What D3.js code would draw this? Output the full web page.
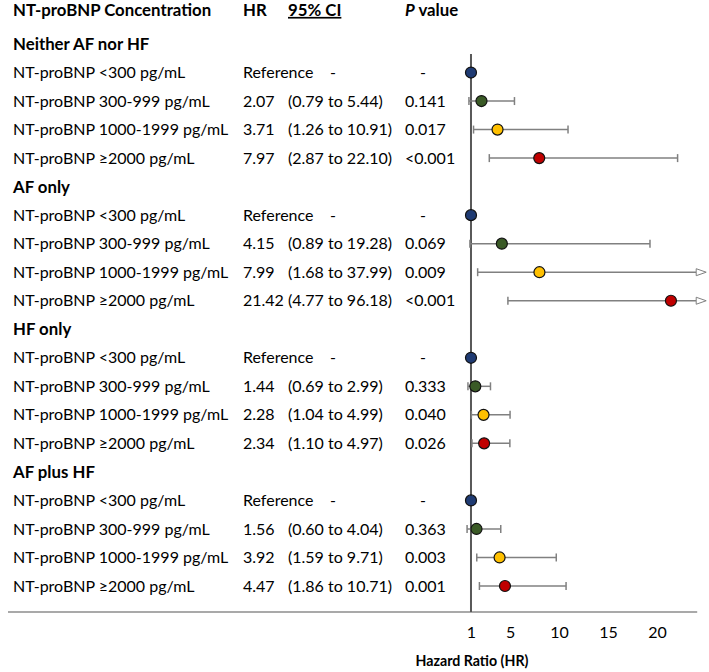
<!DOCTYPE html>
<html><head><meta charset="utf-8">
<script src="https://cdn.jsdelivr.net/npm/d3@7/dist/d3.min.js"></script>
<style>
body{margin:0;background:#fff;}
svg{display:block;}
text{font-family:Lato,"Open Sans",sans-serif;fill:#000;}
</style></head>
<body><svg id="c" width="709" height="672"></svg>
<script>
// ---- data ----
const groups = ["Neither AF nor HF", "AF only", "HF only", "AF plus HF"];
const categories = ["NT-proBNP <300 pg/mL", "NT-proBNP 300-999 pg/mL", "NT-proBNP 1000-1999 pg/mL", "NT-proBNP \u22652000 pg/mL"];
const hrValues = [
  [1, 2.07, 3.71, 7.97],
  [1, 4.15, 7.99, 21.42],
  [1, 1.44, 2.28, 2.34],
  [1, 1.56, 3.92, 4.47]
];
const ciLower = [
  [null, 0.79, 1.26, 2.87],
  [null, 0.89, 1.68, 4.77],
  [null, 0.69, 1.04, 1.10],
  [null, 0.60, 1.59, 1.86]
];
const ciUpper = [
  [null, 5.44, 10.91, 22.10],
  [null, 19.28, 37.99, 96.18],
  [null, 2.99, 4.99, 4.97],
  [null, 4.04, 9.71, 10.71]
];
const hrLabels = [
  ["Reference", "2.07", "3.71", "7.97"],
  ["Reference", "4.15", "7.99", "21.42"],
  ["Reference", "1.44", "2.28", "2.34"],
  ["Reference", "1.56", "3.92", "4.47"]
];
const ciLabels = [
  ["-", "(0.79 to 5.44)", "(1.26 to 10.91)", "(2.87 to 22.10)"],
  ["-", "(0.89 to 19.28)", "(1.68 to 37.99)", "(4.77 to 96.18)"],
  ["-", "(0.69 to 2.99)", "(1.04 to 4.99)", "(1.10 to 4.97)"],
  ["-", "(0.60 to 4.04)", "(1.59 to 9.71)", "(1.86 to 10.71)"]
];
const pLabels = [
  ["-", "0.141", "0.017", "<0.001"],
  ["-", "0.069", "0.009", "<0.001"],
  ["-", "0.333", "0.040", "0.026"],
  ["-", "0.363", "0.003", "0.001"]
];
const xTicks = [1, 5, 10, 15, 20];
const xMax = 24;

// ---- styles ----
const markerColors = ["#1f3b73", "#3a5a26", "#ffc000", "#c00000"];
const FS = 16;
const FSB = 16.8;

const svg = d3.select("#c");
const x = d3.scaleLinear().domain([0, xMax]).range([461.2, 696.2]);
const y = d3.scaleLinear().domain([1, 20]).range([44, 586]);

// build rows
const rows = [];
let slot = 1;
groups.forEach((g, gi) => {
  rows.push({type: "group", label: g, slot: slot++});
  categories.forEach((c, ci) => {
    rows.push({type: "item", label: c, slot: slot++, gi, ci,
      hr: hrValues[gi][ci], lo: ciLower[gi][ci], hi: ciUpper[gi][ci],
      hrL: hrLabels[gi][ci], ciL: ciLabels[gi][ci], pL: pLabels[gi][ci]});
  });
});

// header
const hdr = svg.append("g").attr("font-weight", "bold").attr("font-size", FSB);
hdr.append("text").attr("x", 13).attr("y", 10).attr("dy", "0.35em").text("NT-proBNP Concentration");
hdr.append("text").attr("x", 243).attr("y", 10).attr("dy", "0.35em").text("HR");
hdr.append("text").attr("x", 288).attr("y", 10).attr("dy", "0.35em").style("text-decoration", "underline").text("95% CI");
const pv = hdr.append("text").attr("x", 405).attr("y", 10).attr("dy", "0.35em");
pv.append("tspan").attr("font-style", "italic").text("P");
pv.append("tspan").text(" value");

// left table
const tbl = svg.append("g").attr("font-size", FS);
rows.forEach(r => {
  const yy = y(r.slot);
  if (r.type === "group") {
    tbl.append("text").attr("x", 13).attr("y", yy).attr("dy", "0.35em").attr("font-weight", "bold").attr("font-size", FSB).text(r.label);
  } else {
    tbl.append("text").attr("x", 13).attr("y", yy).attr("dy", "0.35em").text(r.label);
    tbl.append("text").attr("x", 243).attr("y", yy).attr("dy", "0.35em").text(r.hrL);
    tbl.append("text").attr("x", r.ci === 0 ? 330 : 288).attr("y", yy).attr("dy", "0.35em").text(r.ciL);
    tbl.append("text").attr("x", r.ci === 0 ? 420 : 405).attr("y", yy).attr("dy", "0.35em").text(r.pL);
  }
});

// axis baseline and reference line
svg.append("line").attr("x1", 8).attr("x2", x(xMax) + 1).attr("y1", 612).attr("y2", 612)
  .attr("stroke", "#8c8c8c").attr("stroke-width", 1.5);
svg.append("line").attr("x1", x(1)).attr("x2", x(1)).attr("y1", 54).attr("y2", 612)
  .attr("stroke", "#595959").attr("stroke-width", 2);

// axis ticks labels
const ax = svg.append("g").attr("transform", "translate(0,627)")
  .call(d3.axisBottom(x).tickValues(xTicks).tickSize(0).tickPadding(0).tickFormat(d3.format("d")));
ax.select(".domain").remove();
ax.selectAll("text").attr("font-size", FS).attr("font-family", "Lato,'Open Sans',sans-serif").attr("fill", "#000");
svg.append("text").attr("x", x(1) + 1).attr("y", 661).attr("dy", "0.35em").attr("text-anchor", "middle")
  .attr("font-weight", "bold").attr("font-size", 14.2).text("Hazard Ratio (HR)");

// error bars
const items = rows.filter(r => r.type === "item" && r.lo != null);
const eb = svg.append("g").attr("stroke", "#808080").attr("stroke-width", 1.5).attr("fill", "none");
items.forEach(r => {
  const yy = y(r.slot);
  const clipped = r.hi > xMax;
  const xr = clipped ? x(xMax) : x(r.hi);
  eb.append("line").attr("x1", x(r.lo)).attr("x2", xr).attr("y1", yy).attr("y2", yy);
  eb.append("line").attr("x1", x(r.lo)).attr("x2", x(r.lo)).attr("y1", yy - 4).attr("y2", yy + 4);
  if (clipped) {
    eb.append("path").attr("d", `M${xr},${yy - 3.5}L${xr + 10},${yy}L${xr},${yy + 3.5}Z`)
      .attr("fill", "#fff").attr("stroke-width", 1);
  } else {
    eb.append("line").attr("x1", xr).attr("x2", xr).attr("y1", yy - 4).attr("y2", yy + 4);
  }
});

// markers
svg.append("g").selectAll("circle").data(rows.filter(r => r.type === "item")).join("circle")
  .attr("cx", d => x(d.hr)).attr("cy", d => y(d.slot)).attr("r", 5.5)
  .attr("fill", d => markerColors[d.ci]).attr("stroke", "#111").attr("stroke-width", 1.2);
</script></body></html>
